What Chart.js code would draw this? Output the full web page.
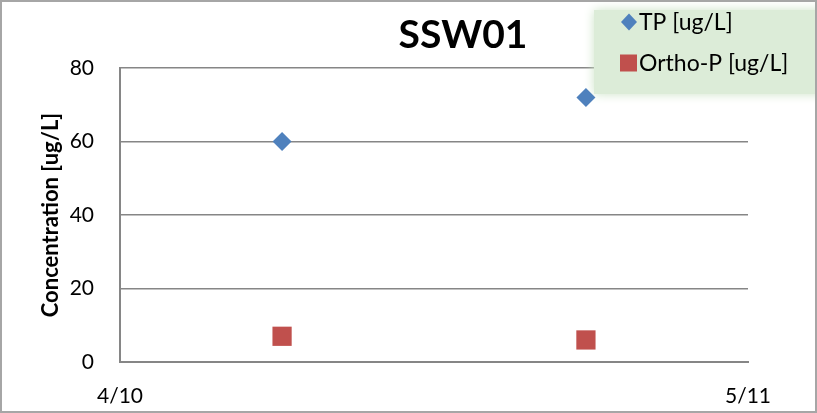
<!DOCTYPE html>
<html>
<head>
<meta charset="utf-8">
<script src="https://cdn.jsdelivr.net/npm/chart.js@4/dist/chart.umd.min.js"></script>
<style>
  html, body { margin: 0; padding: 0; background: #fff; }
  #wrap { width: 817px; height: 413px; }
</style>
</head>
<body>
<div id="wrap"><canvas id="grafica" width="817" height="413"></canvas></div>
<script>
const fechas = ['4/18', '5/3'];
const valoresTP = [60, 72];
const valoresOrthoP = [7, 6];
const ejeXInicio = '4/10';
const ejeXFin = '5/11';
const ticksY = [0, 20, 40, 60, 80];

// m/d -> día del año (año fijo, solo para posicionar)
function diaDelAnio(md) {
  const [m, d] = md.split('/').map(Number);
  return (Date.UTC(2013, m - 1, d) - Date.UTC(2013, 0, 1)) / 86400000;
}
function fechaDesdeDia(n) {
  const f = new Date(Date.UTC(2013, 0, 1) + n * 86400000);
  return (f.getUTCMonth() + 1) + '/' + f.getUTCDate();
}

const fuente = "Lato, 'Open Sans', sans-serif";

const puntosTP = fechas.map((f, i) => ({ x: diaDelAnio(f), y: valoresTP[i] }));
const puntosOrtho = fechas.map((f, i) => ({ x: diaDelAnio(f), y: valoresOrthoP[i] }));

// fondo, borde, título y leyenda al estilo Excel
const decoracion = {
  id: 'decoracion',
  beforeDraw(chart) {
    const ctx = chart.ctx;
    ctx.save();
    ctx.fillStyle = '#ffffff';
    ctx.fillRect(0, 0, chart.width, chart.height);
    ctx.restore();
  },
  beforeDatasetsDraw(chart) {
    const ctx = chart.ctx;
    ctx.save();
    // caja de la leyenda
    ctx.shadowColor = 'rgba(205, 228, 200, 1)';
    ctx.shadowBlur = 10;
    ctx.fillStyle = '#dcecd8';
    ctx.fillRect(594, 10, 240, 84);
    ctx.shadowBlur = 0;
    ctx.font = '23px ' + fuente;
    ctx.textBaseline = 'middle';
    ctx.textAlign = 'left';
    chart.data.datasets.forEach((ds, i) => {
      const cy = i === 0 ? 22 : 63;
      ctx.fillStyle = ds.backgroundColor;
      ctx.beginPath();
      if (ds.pointStyle === 'rectRot') {
        ctx.moveTo(621, cy);
        ctx.lineTo(629, cy - 8.5);
        ctx.lineTo(637, cy);
        ctx.lineTo(629, cy + 8.5);
        ctx.closePath();
      } else {
        ctx.rect(620, cy - 8.5, 17, 17);
      }
      ctx.fill();
      ctx.fillStyle = '#000';
      ctx.fillText(ds.label, 639, cy + 1);
    });
    ctx.restore();
  },
  afterDraw(chart) {
    const ctx = chart.ctx;
    ctx.save();
    ctx.fillStyle = '#000';
    ctx.font = 'bold 39px ' + fuente;
    ctx.textAlign = 'center';
    ctx.textBaseline = 'middle';
    ctx.fillText('SSW01', 463, 35);
    ctx.strokeStyle = '#a6a6a6';
    ctx.lineWidth = 2;
    ctx.strokeRect(1, 1, chart.width - 2, chart.height - 2);
    ctx.restore();
  }
};

new Chart(document.getElementById('grafica'), {
  type: 'scatter',
  data: {
    datasets: [{
      label: 'TP [ug/L]',
      data: puntosTP,
      pointStyle: 'rectRot',
      pointRadius: 9.5,
      pointHoverRadius: 9.5,
      backgroundColor: '#4f81bd',
      borderColor: '#4f81bd',
      borderWidth: 0
    }, {
      label: 'Ortho-P [ug/L]',
      data: puntosOrtho,
      pointStyle: 'rect',
      pointRadius: 13.6,
      pointHoverRadius: 13.6,
      backgroundColor: '#c0504d',
      borderColor: '#c0504d',
      borderWidth: 0
    }]
  },
  options: {
    responsive: false,
    animation: false,
    layout: { padding: { top: 68, right: 69, bottom: 0, left: 0 } },
    plugins: {
      legend: { display: false },
      title: { display: false },
      tooltip: { enabled: false }
    },
    scales: {
      x: {
        type: 'linear',
        min: diaDelAnio(ejeXInicio),
        max: diaDelAnio(ejeXFin),
        afterBuildTicks: axis => {
          axis.ticks = [{ value: diaDelAnio(ejeXInicio) }, { value: diaDelAnio(ejeXFin) }];
        },
        afterFit: axis => { axis.height = 51; },
        grid: { display: false, drawTicks: false },
        border: { display: true, color: '#868686', width: 2 },
        ticks: {
          padding: 22,
          color: '#000',
          font: { family: fuente, size: 21 },
          maxRotation: 0,
          callback: v => fechaDesdeDia(v)
        }
      },
      y: {
        min: ticksY[0],
        max: ticksY[ticksY.length - 1],
        afterBuildTicks: axis => {
          axis.ticks = ticksY.map(v => ({ value: v }));
        },
        afterFit: axis => { axis.width = 120; },
        grid: { color: '#868686', lineWidth: 1.5, drawTicks: false },
        border: { display: true, color: '#868686', width: 2 },
        ticks: {
          padding: 26,
          color: '#000',
          font: { family: fuente, size: 21 }
        },
        title: {
          display: true,
          text: 'Concentration [ug/L]',
          color: '#000',
          font: { family: fuente, size: 22, weight: 'bold' },
          padding: { top: 38, bottom: 0 }
        }
      }
    }
  },
  plugins: [decoracion]
});
</script>
</body>
</html>
